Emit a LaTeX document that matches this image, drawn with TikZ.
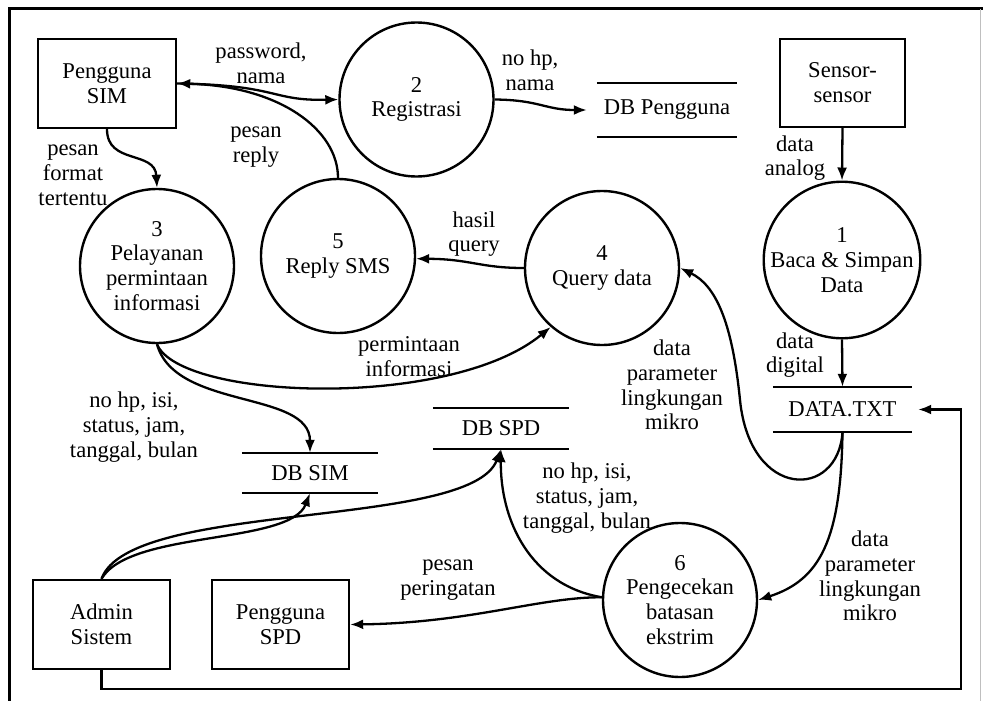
\documentclass[tikz,border=0pt]{standalone}
\usepackage{fontspec}
\setmainfont{Liberation Serif}
\usetikzlibrary{arrows.meta}
\begin{document}
\begin{tikzpicture}[x=1pt,y=-1pt,
  every node/.style={font=\fontsize{22.6}{24.8}\selectfont, inner sep=0pt, align=center},
  proc/.style={draw, circle, line width=2.4pt, minimum size=154pt},
  ent/.style={draw, rectangle, line width=2.4pt, minimum width=137pt, minimum height=89pt},
  store/.style={minimum width=138pt},
  flow/.style={line width=2.3pt, -{Latex[length=13pt,width=10pt]}},
  thin line/.style={line width=2.4pt}]
\useasboundingbox (0,0) rectangle (983,701);
% frame
\draw[line width=3pt] (983,9) -- (9,9) -- (9,701);
\draw[line width=1pt, black!25] (980.5,9) -- (980.5,701);

% external entities
\node[ent, minimum width=138pt] (psim) at (107,83.5) {Pengguna\\SIM};
\node[ent, minimum width=125pt, minimum height=88pt] (sensor) at (842.5,83) {Sensor-\\sensor};
\node[ent] (admin) at (101.5,624.5) {Admin\\Sistem};
\node[ent] (pspd) at (280.5,624.5) {Pengguna\\SPD};

% processes
\node[proc] (reg) at (416.5,99.5) {2\\Registrasi};
\node[proc] (c1) at (842,260) {1\\Baca \& Simpan\\Data};
\node[proc] (c4) at (602,268) {4\\Query data};
\node[proc] (c5) at (338,256) {5\\Reply SMS};
\node[proc] (c3) at (157,266) {3\\Pelayanan\\permintaan\\informasi};
\node[proc] (c6) at (680,600) {6\\Pengecekan\\batasan\\ekstrim};

% data stores
\node[store, minimum width=140pt, minimum height=54pt] (dbp) at (667,110) {DB Pengguna};
\node[store, minimum width=139pt, minimum height=45pt] (dtxt) at (842.5,409.5) {DATA.TXT};
\node[store, minimum width=136pt, minimum height=41pt] (dbspd) at (501,428.5) {DB SPD};
\node[store, minimum width=136pt, minimum height=40pt] (dbsim) at (310,473) {DB SIM};
\foreach \s in {dbp,dtxt,dbspd,dbsim}{
  \draw[thin line] (\s.north west) -- (\s.north east);
  \draw[thin line] (\s.south west) -- (\s.south east);
}

% labels
\node (l1) at (261,63) {password,\\nama};
\node (l2) at (256,147) {pesan\\reply};
\node (l3) at (530,70) {no hp,\\nama};
\node (l4) at (795,158) {data\\analog};
\node (l5) at (73,175) {pesan\\format\\tertentu};
\node (l6) at (474,234) {hasil\\query};
\node (l7) at (795,355) {data\\digital};
\node (l8) at (409,357) {permintaan\\informasi};
\node (l9) at (672,385) {data\\parameter\\lingkungan\\mikro};
\node (l10) at (134,427) {no hp, isi,\\status, jam,\\tanggal, bulan};
\node (l11) at (587,498) {no hp, isi,\\status, jam,\\tanggal, bulan};
\node (l12) at (448,580) {pesan\\peringatan};
\node (l13) at (870,576) {data\\parameter\\lingkungan\\mikro};

% connectors
\draw[flow] (psim.east) .. controls (280,85) and (270,101) .. (reg.west);
\draw[flow] (c5.north) .. controls (338,130) and (280,86) .. (psim.east);
\draw[flow] (reg.east) .. controls (540,100) and (545,110) .. ([xshift=-10pt]dbp.west);
\draw[flow] (sensor.south) -- (c1.north);
\draw[flow] (c1.south) -- (dtxt.north);
\draw[flow] (psim.south) .. controls (107,165) and (155,150) .. (c3.north);
\draw[flow] (c4.west) .. controls (480,268) and (470,259) .. (c5.-2);
\draw[flow] (c3.south) .. controls (180,400) and (450,410) .. (c4.229);
\draw[flow] (c3.south) .. controls (175,410) and (310,390) .. (dbsim.north);
\draw[flow] (admin.north) .. controls (130,530) and (290,545) .. (dbsim.south);
\draw[flow] (admin.north) .. controls (130,500) and (470,530) .. (dbspd.south);
\draw[flow] (c6.178) .. controls (530,585) and (500,520) .. (dbspd.south);
\draw[flow] (c6.178) .. controls (540,597) and (470,623) .. (pspd.east);
\coordinate (m1) at (740,400);
\draw[flow] (dtxt.south) .. controls (838,500) and (750,500) .. (m1) .. controls (732,320) and (715,285) .. (c4.east);
\draw[flow] (dtxt.south) .. controls (841,540) and (820,580) .. (c6.east);
\coordinate (corner) at (961,689);
\draw[flow] (admin.south) |- (corner) |- ([xshift=6pt]dtxt.east);
\end{tikzpicture}
\end{document}
